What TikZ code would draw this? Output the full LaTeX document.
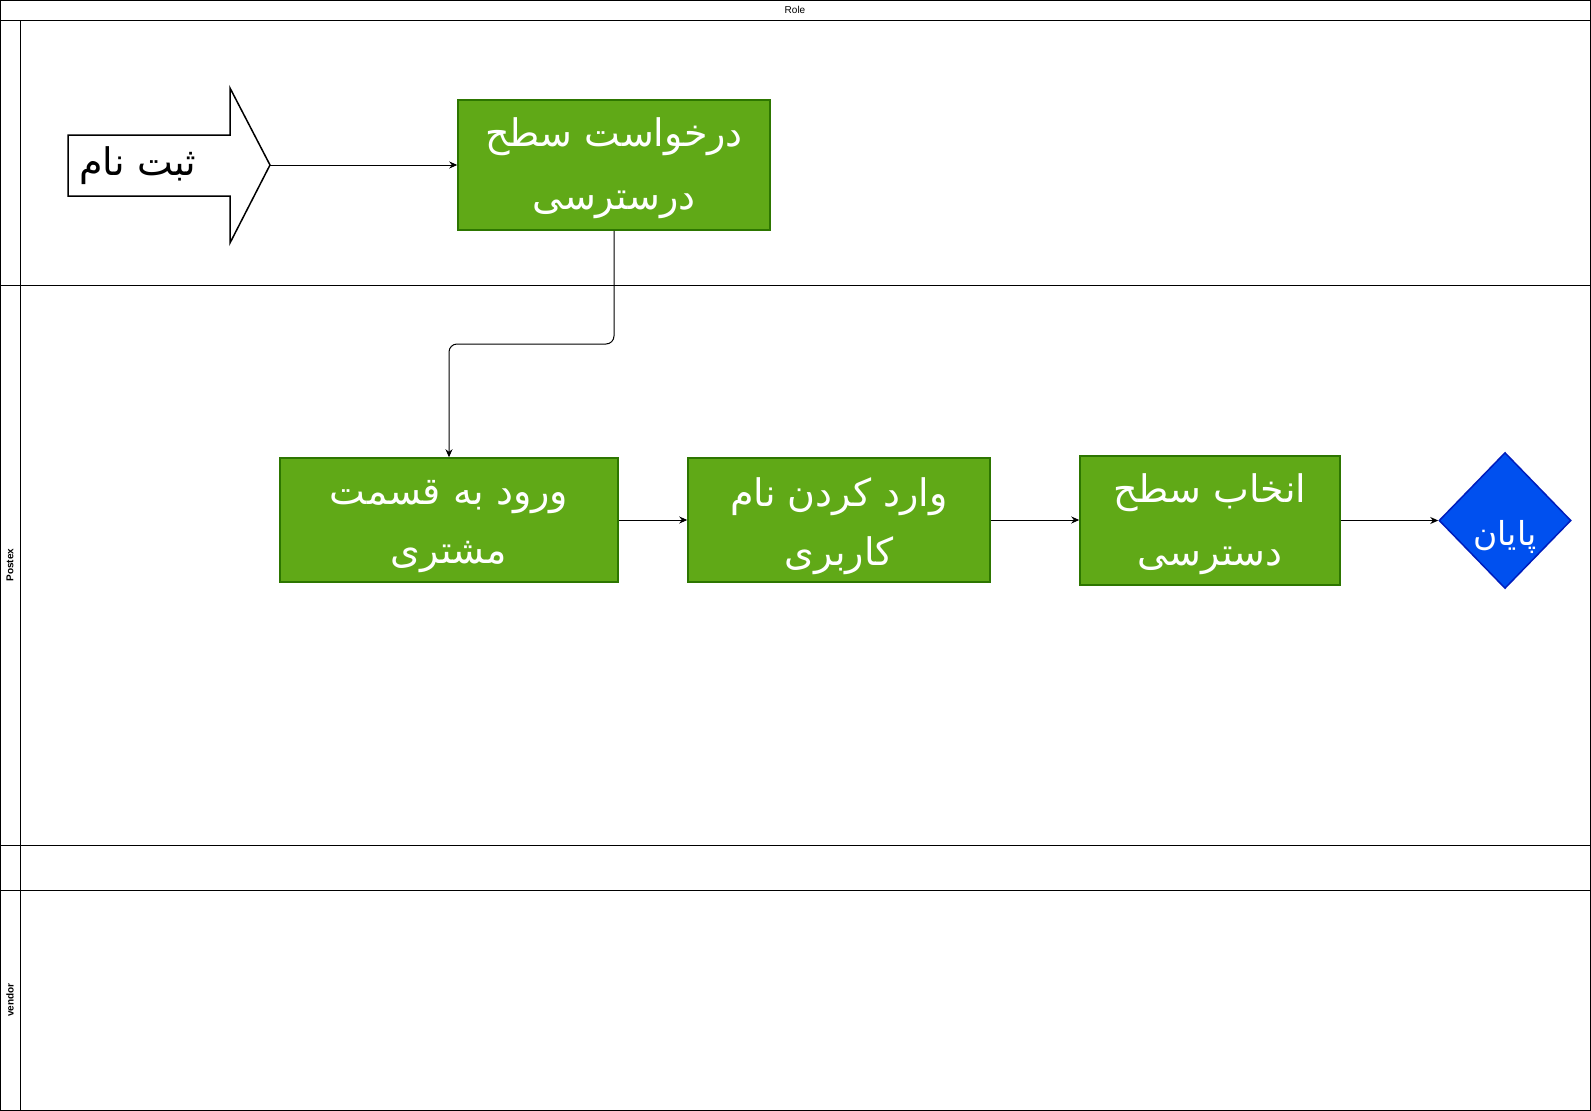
\documentclass[tikz,border=0pt]{standalone}
\usepackage{fontspec}
\setmainfont{Liberation Sans}
\newfontfamily\arabicfont[Script=Arabic]{DejaVu Sans}
\TeXXeTstate=1
\usetikzlibrary{arrows.meta,shapes.geometric}
\definecolor{boxgreen}{HTML}{60A917}
\definecolor{boxgreenline}{HTML}{2D7600}
\definecolor{diablue}{HTML}{0050EF}
\definecolor{diablueline}{HTML}{001DBC}
\tikzset{
  lane/.style={draw=black, line width=1pt},
  greenbox/.style={rectangle, draw=boxgreenline, fill=boxgreen, line width=1.5pt, inner sep=0pt},
  boxtext/.style={text=white, align=center, inner sep=0pt, font=\fontsize{38}{61}\selectfont},
  enddia/.style={diamond, draw=diablueline, fill=diablue, line width=1.5pt, text=white, inner sep=0pt},
  flow/.style={draw=black, line width=1pt, -{Stealth[length=8pt,width=7pt]}},
  lanelabel/.style={font=\bfseries\fontsize{10}{12}\selectfont, rotate=90}
}
\begin{document}
\begin{tikzpicture}[x=1pt,y=-1pt]
\useasboundingbox (0,0) rectangle (1591,1111);
% pool frame
\draw[lane] (0.5,0.5) rectangle (1590.5,1110.5);
\draw[lane] (0.5,20) -- (1590.5,20);
\draw[lane] (20,20) -- (20,1110.5);
\draw[lane] (0.5,285) -- (1590.5,285);
\draw[lane] (0.5,845) -- (1590.5,845);
\draw[lane] (0.5,890) -- (1590.5,890);
\node[font=\fontsize{10}{12}\selectfont] (role) at (795,10) {Role};
\node[lanelabel] (postex) at (10,565) {Postex};
\node[lanelabel] (vendor) at (10,1000) {vendor};
% start arrow shape
\draw[line width=1.5pt, fill=white] (68,135) -- (230,135) -- (230,88) -- (270,165) -- (230,243) -- (230,196) -- (68,196) -- cycle;
\coordinate (tip) at (270,165);
\node[font=\fontsize{38}{44}\selectfont] (start) at (138,166) {\arabicfont\beginR ثبت نام\endR};
% boxes
\node[greenbox, minimum width=312pt, minimum height=130pt,
  label={[boxtext, font=\fontsize{38}{63}\selectfont, yshift=-3pt]center:{{\arabicfont\beginR درخواست سطح\endR}\\{\arabicfont\beginR درسترسی\endR}}}] (b1) at (614,165) {};
\node[greenbox, minimum width=338pt, minimum height=124pt,
  label={[boxtext, font=\fontsize{38}{59}\selectfont, yshift=-7pt]center:{{\arabicfont\beginR ورود به قسمت\endR}\\{\arabicfont\beginR مشتری\endR}}}] (b2) at (449,520) {};
\node[greenbox, minimum width=302pt, minimum height=124pt,
  label={[boxtext, font=\fontsize{38}{59}\selectfont, yshift=-6pt]center:{{\arabicfont\beginR وارد کردن نام\endR}\\{\arabicfont\beginR کاربری\endR}}}] (b3) at (839,520) {};
\node[greenbox, minimum width=260pt, minimum height=129pt,
  label={[boxtext, font=\fontsize{38}{63}\selectfont, yshift=-4pt]center:{{\arabicfont\beginR انخاب سطح\endR}\\{\arabicfont\beginR دسترسی\endR}}}] (b4) at (1210,520.5) {};
\node[enddia, minimum width=132pt, minimum height=136pt] (end) at (1505,520.5) {};
\node[text=white, font=\fontsize{33}{38}\selectfont] (endtext) at (1505,537) {\arabicfont\beginR پایان\endR};
% connectors
\coordinate (mid) at (0,344);
\draw[flow] (tip) -- (b1.west);
\draw[flow, rounded corners=8pt] (b1.south) -- (b1.south |- mid) -- (b2.north |- mid) -- (b2.north);
\draw[flow] (b2.east) -- (b3.west);
\draw[flow] (b3.east) -- (b4.west |- b3.east);
\draw[flow] (b4.east) -- (end.west);
\end{tikzpicture}
\end{document}
